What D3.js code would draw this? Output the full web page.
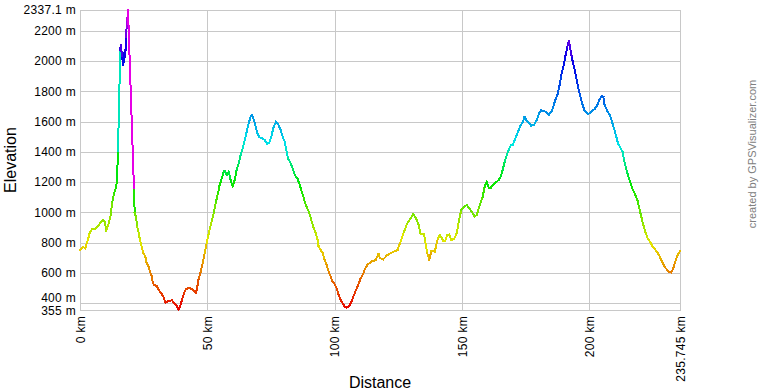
<!DOCTYPE html>
<html>
<head>
<meta charset="utf-8">
<script src="https://cdn.jsdelivr.net/npm/d3@7"></script>
<style>
  body { margin: 0; background: #fff; }
  svg { font-family: "Liberation Sans", Arial, sans-serif; display: block; }
</style>
</head>
<body>
<svg id="chart" width="760" height="390"></svg>
<script>
// Track profile: distance along the route (km) and elevation (m)
const distanceKm = [
  0, 1.18, 2.08, 2.87, 3.81, 4.71, 5.78, 6.80, 7.86, 8.92,
  9.70, 10.33, 11.28, 12.06, 12.69, 13.36, 14.14, 14.54, 14.93, 15.83,
  15.99, 16.62, 17.01, 17.56, 17.80, 18.07, 18.35, 18.58, 18.86, 21.22,
  21.49, 22.00, 22.51, 23.06, 23.57, 24.36, 24.87, 25.66, 26.21, 26.99,
  27.50, 28.01, 28.56, 29.08, 30.14, 30.92, 31.94, 32.73, 33.52, 34.30,
  35.36, 36.15, 36.93, 37.99, 38.78, 39.29, 40.08, 40.86, 41.65, 42.71,
  43.73, 44.79, 45.58, 46.09, 46.64, 47.42, 48.21, 49.00, 49.78, 50.29,
  51.08, 51.86, 52.65, 53.44, 54.22, 54.73, 55.52, 56.30, 56.85, 57.64,
  58.43, 59.21, 60.00, 60.78, 61.57, 62.36, 63.14, 63.93, 64.71, 65.50,
  66.28, 67.07, 67.58, 68.09, 68.88, 69.66, 70.45, 71.51, 72.57, 73.59,
  74.38, 75.16, 75.95, 77.01, 77.80, 78.86, 79.64, 80.43, 80.94, 81.72,
  82.79, 83.57, 84.36, 85.38, 86.16, 86.95, 87.74, 88.52, 89.31, 90.10,
  90.88, 91.67, 92.45, 93.24, 93.79, 94.57, 95.36, 96.14, 96.93, 97.72,
  98.50, 99.29, 100.07, 100.86, 101.65, 102.43, 103.22, 104.00, 104.79, 105.58,
  106.36, 107.15, 107.93, 108.72, 109.51, 110.29, 111.31, 112.10, 112.88, 113.67,
  114.46, 115.24, 116.03, 116.81, 117.36, 117.87, 119.17, 120.74, 122.47, 124.67,
  126.01, 127.30, 128.60, 129.94, 130.96, 132.02, 133.08, 133.87, 135.16, 135.67,
  136.46, 137.24, 138.03, 139.37, 140.66, 141.45, 142.75, 143.53, 144.32, 145.10,
  145.89, 146.95, 148.01, 148.80, 149.82, 150.87, 151.94, 152.96, 154.02, 155.08,
  155.87, 156.89, 158.22, 159.01, 159.80, 160.58, 161.37, 162.39, 163.45, 164.51,
  165.30, 166.08, 166.87, 167.65, 168.44, 169.23, 170.01, 170.80, 171.59, 172.37,
  173.16, 173.94, 174.73, 175.51, 176.30, 177.32, 178.38, 179.44, 180.46, 181.25,
  182.04, 183.10, 184.16, 185.18, 185.96, 186.75, 187.54, 188.32, 189.11, 189.89,
  190.68, 191.47, 192.02, 192.53, 193.31, 194.10, 194.89, 195.67, 196.46, 197.25,
  198.31, 199.60, 200.90, 202.23, 203.25, 204.04, 205.10, 205.61, 206.16, 207.18,
  208.24, 209.03, 209.81, 210.60, 211.39, 212.45, 213.23, 213.74, 214.53, 215.31,
  216.10, 216.89, 217.95, 218.97, 219.75, 220.54, 221.33, 222.11, 222.90, 223.96,
  224.75, 225.80, 226.83, 227.61, 228.40, 229.18, 229.97, 230.75, 231.54, 232.33,
  233.11, 233.90, 234.69, 235.745
];

const elevationM = [
  751, 773, 763, 806, 862, 890, 890, 905, 928, 950,
  938, 879, 928, 983, 1071, 1126, 1163, 1214, 1405, 2073,
  2106, 2020, 1974, 2073, 2029, 2161, 2227, 2271, 2337.1, 1148,
  996, 971, 905, 864, 817, 765, 732, 707, 666, 641,
  608, 586, 542, 520, 514, 487, 465, 443, 403, 410,
  413, 421, 399, 381, 360, 377, 421, 465, 492, 500,
  496, 483, 469, 509, 564, 608, 664, 730, 796, 839,
  895, 950, 1004, 1071, 1126, 1170, 1214, 1258, 1275, 1247,
  1269, 1214, 1170, 1214, 1280, 1324, 1379, 1423, 1478, 1533,
  1589, 1632, 1643, 1622, 1577, 1523, 1496, 1489, 1478, 1452,
  1460, 1500, 1556, 1599, 1584, 1544, 1500, 1467, 1423, 1357,
  1324, 1291, 1247, 1225, 1192, 1148, 1104, 1060, 1027, 994,
  950, 905, 872, 829, 773, 751, 730, 685, 652, 608,
  575, 542, 525, 498, 454, 421, 399, 377, 370, 377,
  399, 432, 465, 498, 531, 564, 597, 631, 652, 664,
  674, 679, 685, 707, 725, 697, 690, 718, 734, 751,
  806, 872, 928, 961, 989, 961, 917, 855, 855, 806,
  730, 685, 745, 740, 829, 851, 811, 811, 851, 855,
  818, 824, 862, 938, 1016, 1038, 1049, 1027, 1001, 971,
  983, 1038, 1104, 1170, 1203, 1163, 1163, 1181, 1199, 1214,
  1236, 1280, 1335, 1375, 1412, 1441, 1445, 1478, 1511, 1544,
  1577, 1595, 1632, 1604, 1595, 1573, 1577, 1610, 1655, 1676,
  1670, 1665, 1643, 1665, 1698, 1743, 1776, 1830, 1908, 1962,
  2029, 2095, 2132, 2095, 2018, 1962, 1896, 1830, 1776, 1721,
  1670, 1648, 1665, 1683, 1709, 1743, 1771, 1764, 1709, 1670,
  1643, 1599, 1556, 1507, 1456, 1423, 1397, 1346, 1291, 1247,
  1203, 1163, 1126, 1082, 1027, 971, 917, 872, 833, 806,
  780, 758, 736, 714, 685, 657, 635, 619, 604, 602,
  631, 674, 714, 745
];

// Axis ticks
const elevationTicks = [355, 400, 600, 800, 1000, 1200, 1400, 1600, 1800, 2000, 2200, 2337.1];
const distanceTicks = [0, 50, 100, 150, 200, 235.745];

const margin = { top: 10, right: 80, bottom: 80, left: 80 };
const width = 760;
const height = 390;
const plotW = width - margin.left - margin.right;
const plotH = height - margin.top - margin.bottom;
const gridColour = "#c8c8c8";

const svg = d3.select("#chart");

const xScale = d3.scaleLinear().domain([0, 235.745]).range([0, plotW]);
const yScale = d3.scaleLinear().domain([355, 2337.1]).range([plotH, 0]);

// line colour follows elevation: red (low) round the hue wheel to magenta (high)
const hueScale = d3
  .scaleLinear()
  .domain([355, 800, 1200, 1450, 2000, 2337.1])
  .range([0, 60, 120, 180, 240, 300])
  .clamp(true);
const colourFor = (elev) => d3.hsl(hueScale(elev), 1, 0.45).formatHex();

const g = svg
  .append("g")
  .attr("transform", `translate(${margin.left}, ${margin.top})`);

// Grids (drawn by the axes with full-length ticks)
const yAxis = d3
  .axisLeft(yScale)
  .tickValues(elevationTicks)
  .tickSize(-plotW)
  .tickPadding(4)
  .tickFormat((d) => d + " m");

const yAxisG = g.append("g").attr("class", "y axis").call(yAxis);
yAxisG.select(".domain").remove();
yAxisG.selectAll("line").attr("stroke", gridColour).attr("shape-rendering", "crispEdges");
yAxisG
  .selectAll("text")
  .attr("font-size", 12)
  .attr("letter-spacing", "0.3px")
  .attr("fill", "#000")
  .attr("x", -4)
  // 400 m sits right above 355 m, so the two labels are pushed apart a little
  .attr("y", (d) => (d === 400 ? -5.5 : d === 355 ? 1 : 0));

const xAxis = d3
  .axisBottom(xScale)
  .tickValues(distanceTicks)
  .tickSize(-plotH)
  .tickFormat((d) => d + " km");

const xAxisG = g
  .append("g")
  .attr("class", "x axis")
  .attr("transform", `translate(0, ${plotH})`)
  .call(xAxis);
xAxisG.select(".domain").remove();
xAxisG.selectAll("line").attr("stroke", gridColour).attr("shape-rendering", "crispEdges");
xAxisG
  .selectAll("text")
  .attr("font-size", 12)
  .attr("letter-spacing", "0.3px")
  .attr("fill", "#000")
  .attr("transform", "rotate(-90)")
  .attr("text-anchor", "end")
  .attr("x", -6)
  .attr("y", 0)
  .attr("dy", "0.36em");

// Frame round the plot
g.append("rect")
  .attr("width", plotW)
  .attr("height", plotH)
  .attr("fill", "none")
  .attr("stroke", gridColour)
  .attr("shape-rendering", "crispEdges");

// Profile: one short path per step, coloured by the elevation it starts from
const points = distanceKm.map((d, i) => ({ dist: d, elev: elevationM[i] }));
const line = d3
  .line()
  .x((d) => xScale(d.dist))
  .y((d) => yScale(d.elev));

g.append("g")
  .attr("class", "profile")
  .selectAll("path")
  .data(d3.pairs(points))
  .enter()
  .append("path")
  .attr("d", (d) => line(d))
  .attr("fill", "none")
  .attr("stroke", (d) => colourFor(d[0].elev))
  .attr("stroke-width", 2)
  .attr("stroke-linecap", "square")
  .attr("shape-rendering", "crispEdges");

// Axis titles
svg
  .append("text")
  .attr("transform", `translate(16, ${margin.top + plotH / 2}) rotate(-90)`)
  .attr("text-anchor", "middle")
  .attr("font-size", 16)
  .text("Elevation");

svg
  .append("text")
  .attr("x", margin.left + plotW / 2)
  .attr("y", 388)
  .attr("text-anchor", "middle")
  .attr("font-size", 16)
  .text("Distance");

// Credit
svg
  .append("text")
  .attr("transform", `translate(756, 154) rotate(-90)`)
  .attr("text-anchor", "middle")
  .attr("font-size", 11)
  .attr("fill", "#808080")
  .text("created by GPSVisualizer.com");
</script>
</body>
</html>
